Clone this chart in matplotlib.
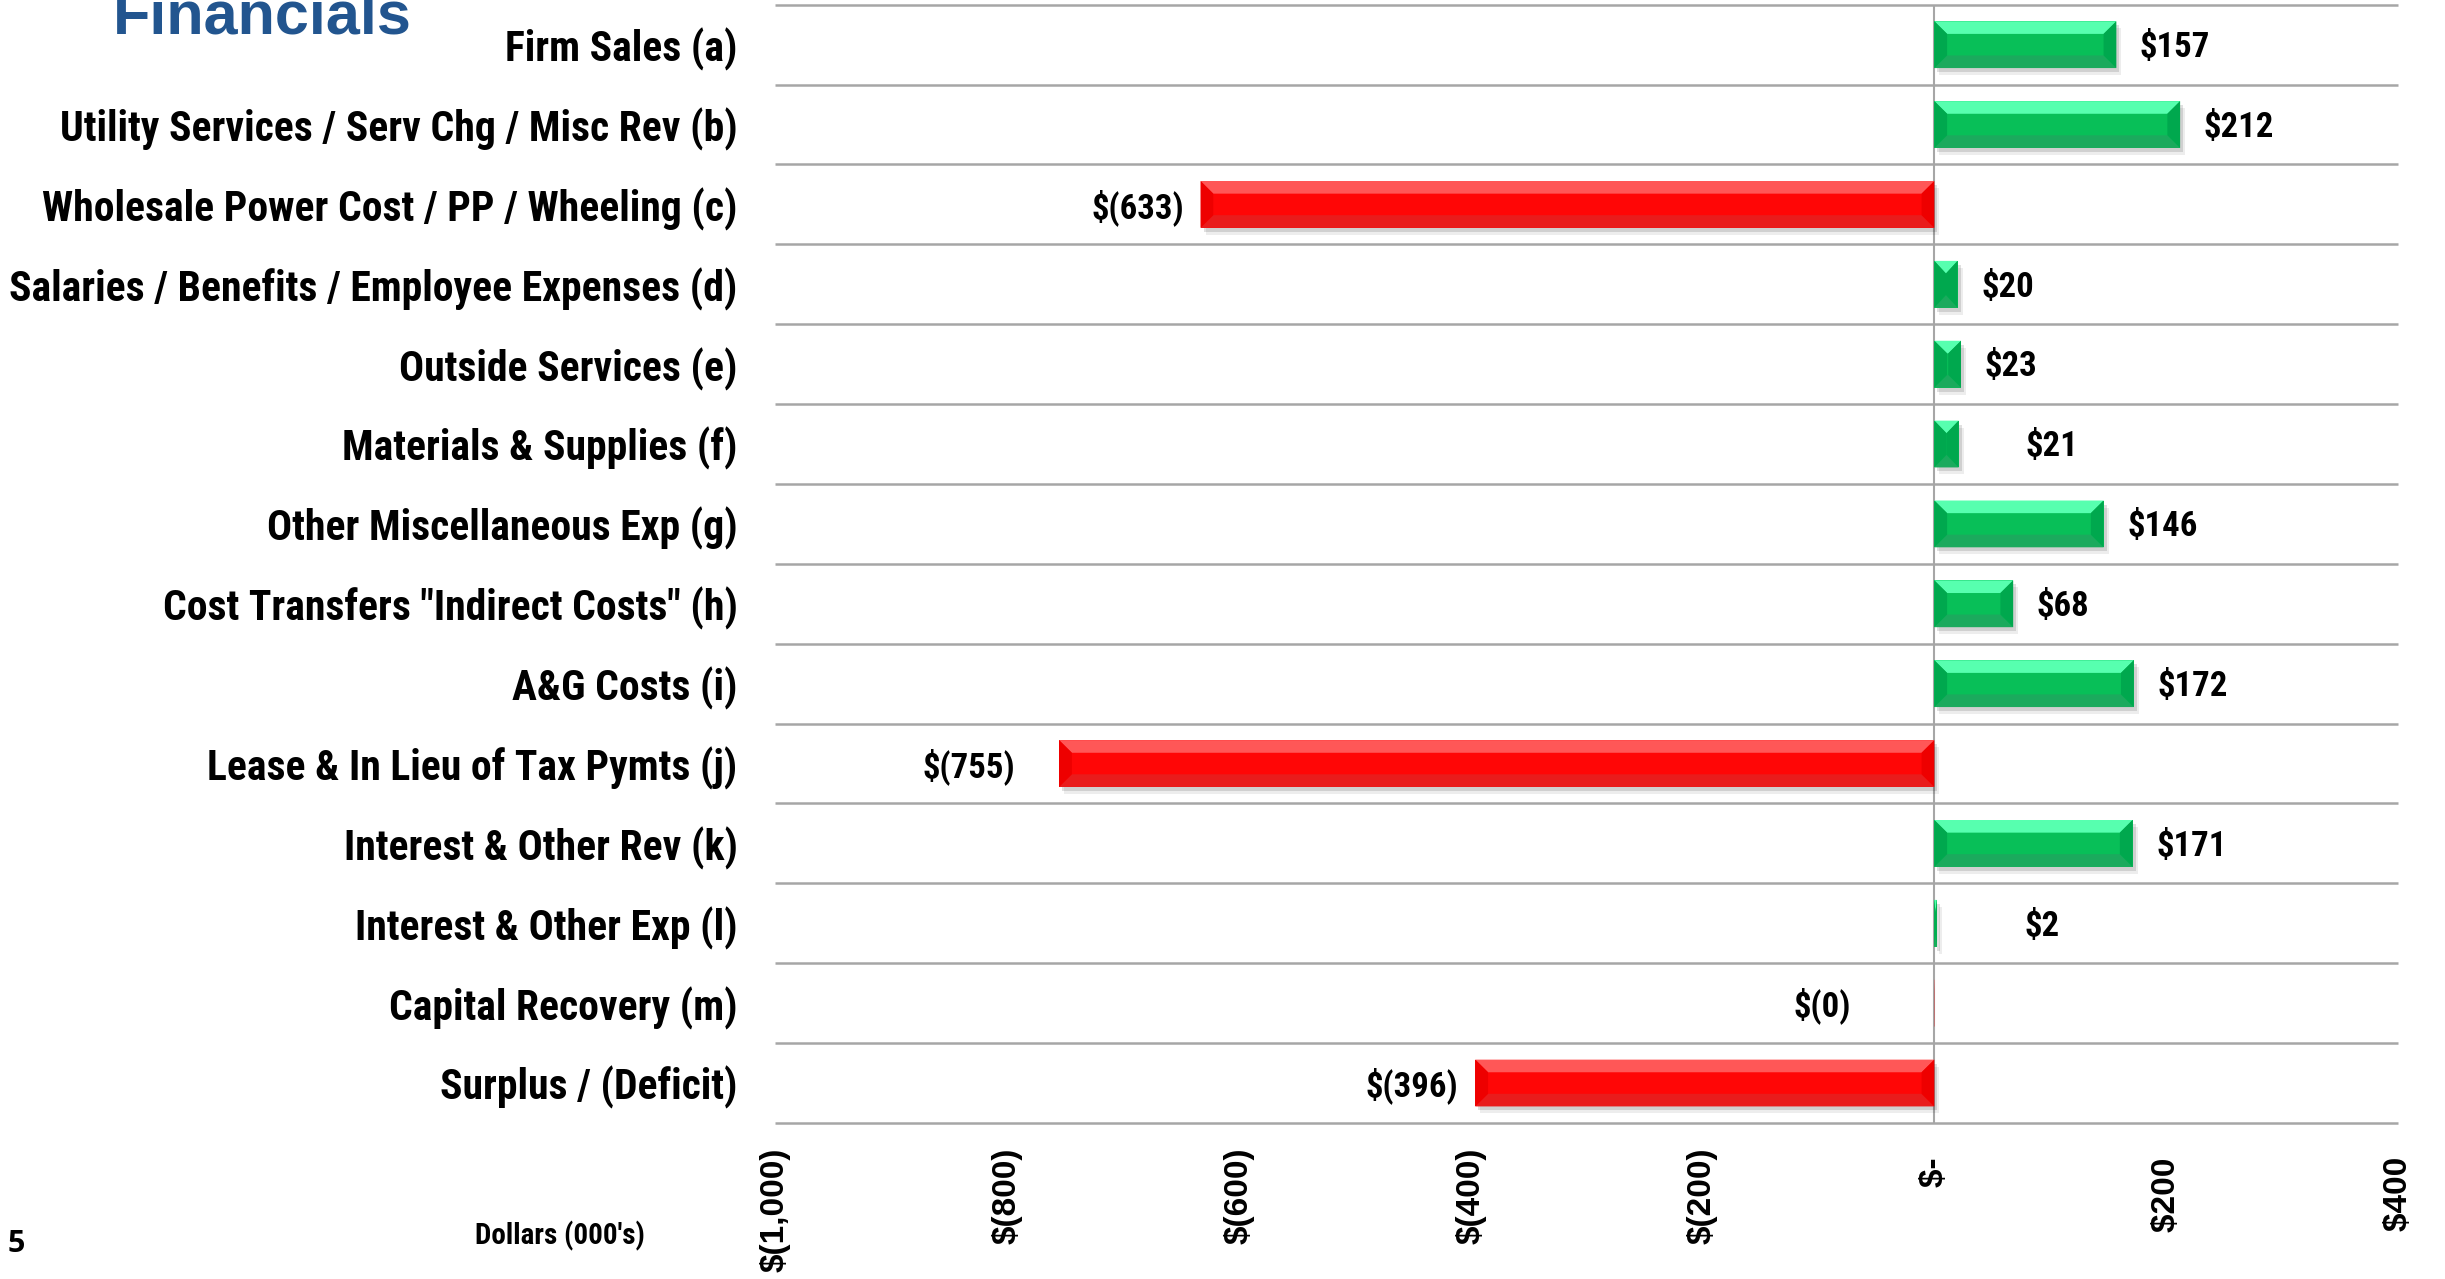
import matplotlib
matplotlib.use('Agg')
import matplotlib.pyplot as plt
import matplotlib.transforms as mtransforms
from matplotlib import font_manager
from matplotlib.patches import Polygon
import numpy as np
import os

# dados do gráfico
categorias = [
    'Firm Sales (a)',
    'Utility Services / Serv Chg / Misc Rev (b)',
    'Wholesale Power Cost / PP / Wheeling (c)',
    'Salaries / Benefits / Employee Expenses (d)',
    'Outside Services (e)',
    'Materials & Supplies (f)',
    'Other Miscellaneous Exp (g)',
    'Cost Transfers "Indirect Costs" (h)',
    'A&G Costs (i)',
    'Lease & In Lieu of Tax Pymts (j)',
    'Interest & Other Rev (k)',
    'Interest & Other Exp (l)',
    'Capital Recovery (m)',
    'Surplus / (Deficit)',
]
valores = [157, 212, -633, 20, 23, 21, 146, 68, 172, -755, 171, 2, -0.3, -396]
ticks_x = [-1000, -800, -600, -400, -200, 0, 200, 400]
rotulos_x = ['$(1,000)', '$(800)', '$(600)', '$(400)', '$(200)', '$- ', '$200 ', '$400 ']


# procura uma fonte estreita em negrito (tipo Arial Narrow Bold)
def acha_estreita():
    preferidas = ['liberationsansnarrow-bold.', 'arialnarrow', 'arialn', 'robotocondensed-bold',
                  'notosans-condensedbold', 'opensans-condensedbold', 'opensanscondensed-bold',
                  'dejavusanscondensed-bold', 'notosansdisplay-condensedbold']
    arquivos = [f.fname for f in font_manager.fontManager.ttflist]
    for p in preferidas:
        for a in arquivos:
            if p in os.path.basename(a).lower().replace(' ', ''):
                return a
    for a in arquivos:
        b = os.path.basename(a).lower()
        if ('condensed' in b or 'narrow' in b) and 'bold' in b and 'extra' not in b and 'semi' not in b:
            return a
    return None


arq = acha_estreita()
if arq:
    fp_cat = font_manager.FontProperties(fname=arq, size=30)
    fp_val = font_manager.FontProperties(fname=arq, size=25)
    fp_eixo = font_manager.FontProperties(fname=arq, size=21)
else:
    fp_cat = font_manager.FontProperties(family='Liberation Sans', weight='bold', size=25)
    fp_val = font_manager.FontProperties(family='Liberation Sans', weight='bold', size=21)
    fp_eixo = font_manager.FontProperties(family='Liberation Sans', weight='bold', size=18)

verde = ('#57FFAF', '#08BF58', '#1BAA5D', '#00A84E')
vermelho = ('#FF5757', '#FF0606', '#E91C1C', '#EE0000')


def formata(v):
    if v < 0:
        return '$(%d)' % round(-v)
    return '$%d' % round(v)


fig = plt.figure(figsize=(24.45, 12.79), dpi=100)
ax = fig.add_axes([0.317, 0.122, 0.6638, 0.8743])

y = np.arange(len(categorias))
altura = 0.586
cores_meio = [verde[1] if v >= 0 else vermelho[1] for v in valores]

# sombra
for dx, dy, a in [(5, -7, 0.07), (3, -4, 0.12)]:
    sombra = mtransforms.offset_copy(ax.transData, fig=fig, x=dx, y=dy, units='dots')
    ax.barh(y, valores, height=altura, color='black', alpha=a, transform=sombra, zorder=2)

barras = ax.barh(y, valores, height=altura, color=cores_meio, zorder=3)

# bisel das barras (eixo y invertido: get_y() é o lado de cima)
for b, v in zip(barras, valores):
    topo, meio, base, lado = verde if v >= 0 else vermelho
    x0, x1 = b.get_x(), b.get_x() + b.get_width()
    x0, x1 = min(x0, x1), max(x0, x1)
    w = x1 - x0
    bx = min(11, w / 2)
    by = altura * 0.27
    yt = b.get_y()
    yb = yt + b.get_height()
    ax.add_patch(Polygon([(x0, yt), (x1, yt), (x1 - bx, yt + by), (x0 + bx, yt + by)],
                         closed=True, color=topo, lw=0, zorder=4))
    ax.add_patch(Polygon([(x0, yb), (x1, yb), (x1 - bx, yb - by), (x0 + bx, yb - by)],
                         closed=True, color=base, lw=0, zorder=4))
    ax.add_patch(Polygon([(x0, yt), (x0 + bx, yt + by), (x0 + bx, yb - by), (x0, yb)],
                         closed=True, color=lado, lw=0, zorder=4))
    ax.add_patch(Polygon([(x1, yt), (x1 - bx, yt + by), (x1 - bx, yb - by), (x1, yb)],
                         closed=True, color=lado, lw=0, zorder=4))

# rótulos de valor (o Excel afasta mais os rótulos de barras pequenas)
ajuste = {5: 31, 9: -20, 11: 46, 12: -48}
for i, v in enumerate(valores):
    dx = (17 if v >= 0 else -12) + ajuste.get(i, 0)
    ax.annotate(formata(v), (v, i), xytext=(dx, -2), textcoords='offset points',
                ha='left' if v >= 0 else 'right', va='center', fontproperties=fp_val)

ax.set_xlim(-1000, 400)
ax.set_ylim(len(categorias) - 0.5, -0.5)

# grade horizontal e linha do zero
ax.hlines(np.arange(-0.5, len(categorias)), -1000, 400, color='#A6A6A6', lw=1.8, zorder=1, clip_on=False)
ax.axvline(0, color='#A6A6A6', lw=1.5, zorder=1)

for s in ax.spines.values():
    s.set_visible(False)

ax.set_yticks(y)
ax.set_yticklabels(categorias, fontproperties=fp_cat)
ax.set_xticks(ticks_x)
ax.set_xticklabels(rotulos_x, rotation=90, fontsize=24, fontweight='bold', family='Liberation Sans')
ax.tick_params(axis='y', length=0, pad=27)
ax.tick_params(axis='x', length=0, pad=18)

fig.text(113 / 2445, 1 - 33 / 1279, 'Financials', fontsize=44, fontweight='bold',
         color='#22558F', family='Liberation Sans', va='baseline')
fig.text(0.229, 0.034, "Dollars (000's)", ha='center', va='center', fontproperties=fp_eixo)
fig.text(0.003, 0.027, '5', fontsize=22, fontweight='bold', family='Open Sans', ha='left', va='center')

fig.savefig('out.png', dpi=100)
